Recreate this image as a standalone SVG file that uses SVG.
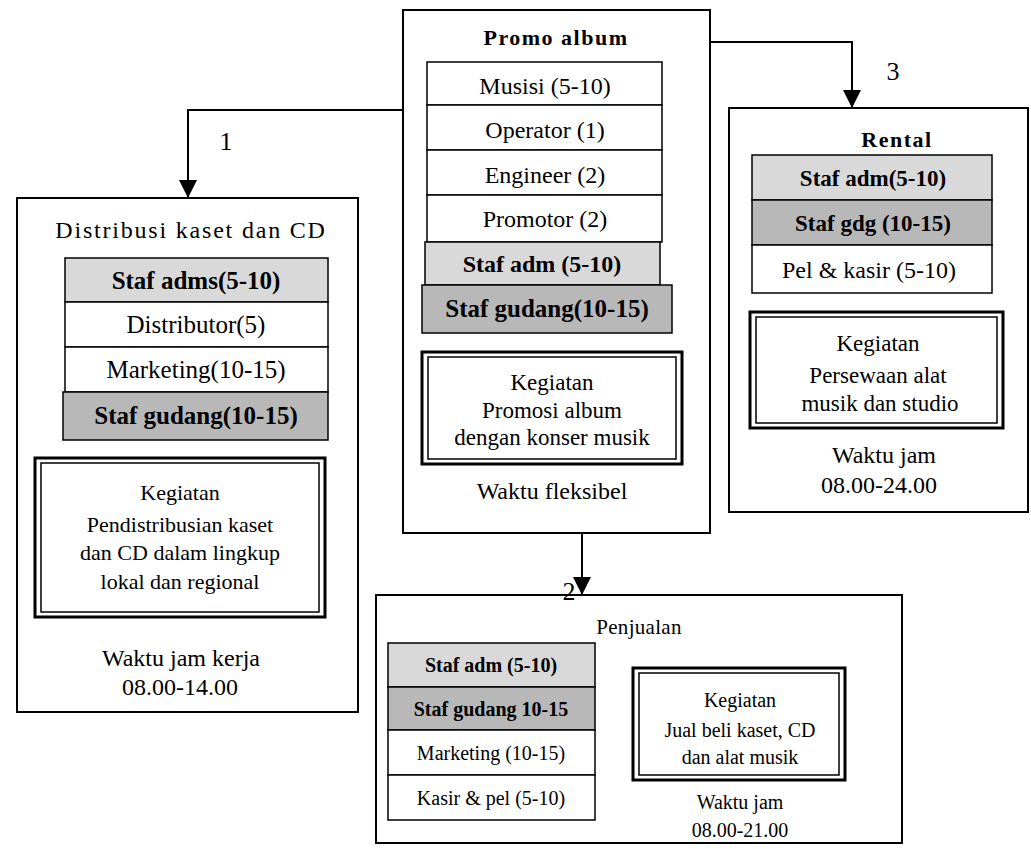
<svg xmlns="http://www.w3.org/2000/svg" width="1031" height="849" viewBox="0 0 1031 849" font-family="'Liberation Serif', 'Times New Roman', serif">
<defs>
<style>
.box{fill:#fff;stroke:#000;stroke-width:2}
.row{stroke:#000;stroke-width:1.5}
.w{fill:#fff}.g1{fill:#d9d9d9}.g2{fill:#b8b8b8}
.dbo{fill:#fff;stroke:#000;stroke-width:3}
.dbi{fill:none;stroke:#000;stroke-width:1.5}
text{font-family:"Liberation Serif","Times New Roman",serif;fill:#000;text-anchor:middle}
.b{font-weight:bold}
.t{font-size:22px;letter-spacing:1.5px}
.conn{fill:none;stroke:#000;stroke-width:2}
</style>
<marker id="ah" markerUnits="userSpaceOnUse" viewBox="0 0 20 20" markerWidth="18" markerHeight="18" refX="20" refY="10" orient="auto">
<path d="M0,0 L20,10 L0,20 z" fill="#000"/>
</marker>
</defs>
<rect width="1031" height="849" fill="#fff"/>

<g id="promo">
<rect class="box" x="403" y="10" width="307" height="523"/>
<text class="b t" x="556" y="45">Promo album</text>
<rect class="row w" x="427" y="62" width="235" height="43"/>
<rect class="row w" x="427" y="105" width="235" height="45"/>
<rect class="row w" x="427" y="150" width="235" height="45"/>
<rect class="row w" x="427" y="195" width="235" height="47"/>
<rect class="row g1" x="425" y="242" width="235" height="43"/>
<rect class="row g2" x="422" y="285" width="250" height="48"/>
<g font-size="24px" style="font-size:24px">
<text x="545" y="94">Musisi (5-10)</text>
<text x="545" y="138">Operator (1)</text>
<text x="545" y="183">Engineer (2)</text>
<text x="545" y="227">Promotor (2)</text>
<text class="b" x="542" y="272">Staf adm (5-10)</text>
<text class="b" x="547" y="317" style="font-size:25px">Staf gudang(10-15)</text>
</g>
<rect class="dbo" x="422" y="352" width="260" height="112"/>
<rect class="dbi" x="428" y="357" width="248" height="102"/>
<g style="font-size:23px">
<text x="552" y="390">Kegiatan</text>
<text x="552" y="418">Promosi album</text>
<text x="552" y="445">dengan konser musik</text>
<text x="552" y="499" style="font-size:24px">Waktu fleksibel</text>
</g>
</g>

<g id="distribusi">
<rect class="box" x="17" y="198" width="341" height="514"/>
<text x="191" y="238" style="font-size:24px;letter-spacing:1.8px">Distribusi kaset dan CD</text>
<rect class="row g1" x="65" y="258" width="263" height="44"/>
<rect class="row w" x="65" y="302" width="263" height="45"/>
<rect class="row w" x="65" y="347" width="263" height="45"/>
<rect class="row g2" x="63" y="392" width="265" height="48"/>
<g style="font-size:25px">
<text class="b" x="196" y="289">Staf adms(5-10)</text>
<text x="196" y="333">Distributor(5)</text>
<text x="196" y="378">Marketing(10-15)</text>
<text class="b" x="196" y="424">Staf gudang(10-15)</text>
</g>
<rect class="dbo" x="35" y="458" width="290" height="159"/>
<rect class="dbi" x="41" y="463" width="278" height="149"/>
<g style="font-size:22px">
<text x="180" y="500">Kegiatan</text>
<text x="180" y="532">Pendistribusian kaset</text>
<text x="180" y="560">dan CD dalam lingkup</text>
<text x="180" y="589">lokal dan regional</text>
</g>
<g style="font-size:24px">
<text x="181" y="666">Waktu jam kerja</text>
<text x="180" y="695">08.00-14.00</text>
</g>
</g>

<g id="rental">
<rect class="box" x="729" y="108" width="299" height="404"/>
<text class="b t" x="897" y="147">Rental</text>
<rect class="row g1" x="752" y="155" width="240" height="45"/>
<rect class="row g2" x="752" y="200" width="240" height="45"/>
<rect class="row w" x="752" y="245" width="240" height="48"/>
<g style="font-size:23px">
<text class="b" x="873" y="186">Staf adm(5-10)</text>
<text class="b" x="873" y="231">Staf gdg (10-15)</text>
<text x="869" y="278" style="font-size:24px">Pel &amp; kasir (5-10)</text>
</g>
<rect class="dbo" x="750" y="312" width="253" height="116"/>
<rect class="dbi" x="756" y="317" width="241" height="106"/>
<g style="font-size:23px">
<text x="878" y="351">Kegiatan</text>
<text x="878" y="383">Persewaan alat</text>
<text x="880" y="411">musik dan studio</text>
</g>
<g style="font-size:24px">
<text x="884" y="463">Waktu jam</text>
<text x="879" y="493">08.00-24.00</text>
</g>
</g>

<g id="penjualan">
<rect class="box" x="376" y="595" width="526" height="248"/>
<text x="639" y="634" style="font-size:21px;letter-spacing:0.3px">Penjualan</text>
<rect class="row g1" x="388" y="643" width="207" height="44"/>
<rect class="row g2" x="388" y="687" width="207" height="43"/>
<rect class="row w" x="388" y="730" width="207" height="45"/>
<rect class="row w" x="388" y="775" width="207" height="45"/>
<g style="font-size:20px">
<text class="b" x="491" y="672">Staf adm (5-10)</text>
<text class="b" x="491" y="716">Staf gudang 10-15</text>
<text x="491" y="760">Marketing (10-15)</text>
<text x="491" y="805">Kasir &amp; pel (5-10)</text>
</g>
<rect class="dbo" x="633" y="668" width="212" height="112"/>
<rect class="dbi" x="639" y="673" width="200" height="102"/>
<g style="font-size:20px">
<text x="740" y="707">Kegiatan</text>
<text x="740" y="737">Jual beli kaset, CD</text>
<text x="740" y="764">dan alat musik</text>
<text x="740" y="809">Waktu jam</text>
<text x="740" y="837">08.00-21.00</text>
</g>
</g>

<g id="connectors">
<path class="conn" d="M403,110 L188,110 L188,198" marker-end="url(#ah)"/>
<path class="conn" d="M710,42 L852,42 L852,108" marker-end="url(#ah)"/>
<path class="conn" d="M582,533 L582,595" marker-end="url(#ah)"/>
<g style="font-size:26px">
<text x="226" y="150">1</text>
<text x="893" y="80">3</text>
<text x="569" y="600">2</text>
</g>
</g>
</svg>
